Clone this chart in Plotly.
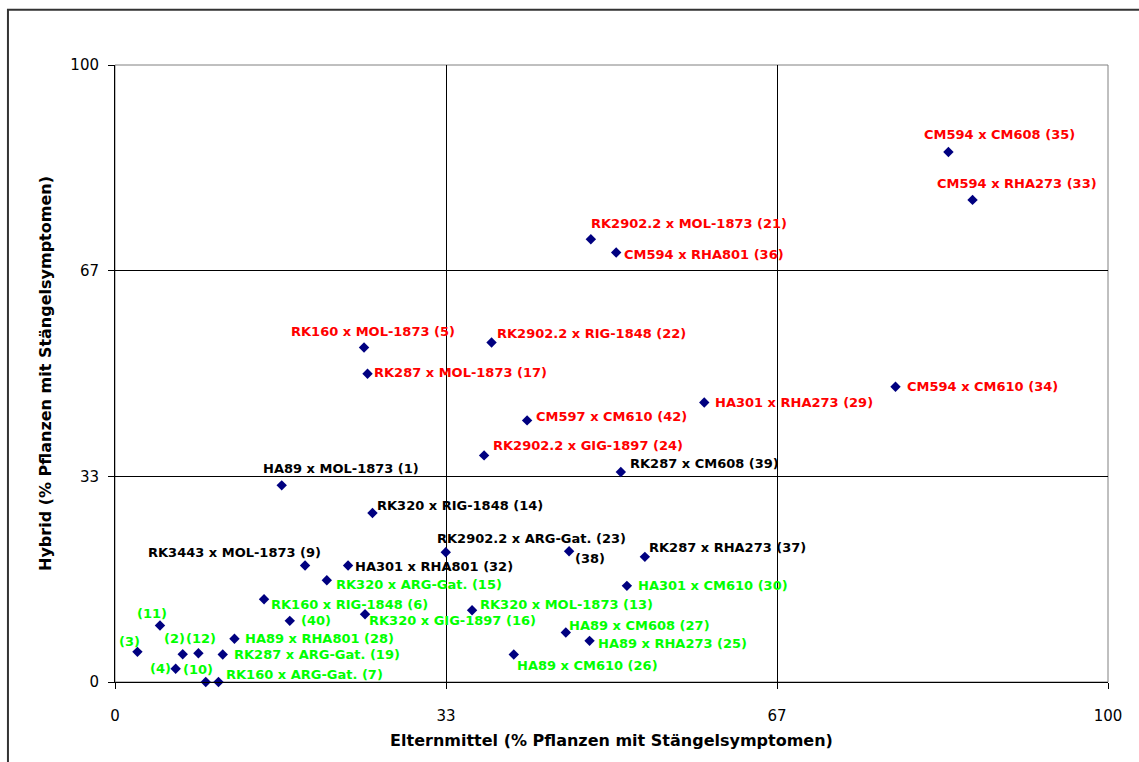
import plotly.graph_objects as go

# ---- data ----
labels = [
    "HA89 x MOL-1873 (1)", "(2)", "(3)", "(4)", "RK160 x MOL-1873 (5)",
    "RK160 x RIG-1848 (6)", "RK160 x ARG-Gat. (7)", "RK3443 x MOL-1873 (9)", "(10)", "(11)",
    "(12)", "RK320 x MOL-1873 (13)", "RK320 x RIG-1848 (14)", "RK320 x ARG-Gat. (15)", "RK320 x GIG-1897 (16)",
    "RK287 x MOL-1873 (17)", "RK287 x ARG-Gat. (19)", "RK2902.2 x MOL-1873 (21)", "RK2902.2 x RIG-1848 (22)", "RK2902.2 x ARG-Gat. (23)",
    "RK2902.2 x GIG-1897 (24)", "HA89 x RHA273 (25)", "HA89 x CM610 (26)", "HA89 x CM608 (27)", "HA89 x RHA801 (28)",
    "HA301 x RHA273 (29)", "HA301 x CM610 (30)", "HA301 x RHA801 (32)", "CM594 x RHA273 (33)", "CM594 x CM610 (34)",
    "CM594 x CM608 (35)", "CM594 x RHA801 (36)", "RK287 x RHA273 (37)", "(38)", "RK287 x CM608 (39)",
    "(40)", "CM597 x CM610 (42)",
]
elternmittel = [
    16.79, 6.82, 2.26, 6.11, 25.08,
    15.01, 10.42, 19.14, 9.14, 4.53,
    8.40, 35.96, 25.93, 21.33, 25.18,
    25.43, 10.85, 47.92, 37.92, 33.31,
    37.17, 47.79, 40.16, 45.40, 12.03,
    59.34, 51.55, 23.47, 86.36, 78.60,
    83.93, 50.47, 53.36, 45.73, 50.94,
    17.60, 41.50,
]
hybrid = [
    31.87, 4.50, 4.89, 2.14, 54.22,
    13.41, 0.00, 18.87, 0.00, 9.15,
    4.66, 11.63, 27.40, 16.49, 10.98,
    49.96, 4.45, 71.77, 55.03, 21.02,
    36.73, 6.67, 4.45, 8.02, 7.00,
    45.31, 15.58, 18.87, 78.14, 47.85,
    85.91, 69.60, 20.28, 21.18, 34.04,
    9.91, 42.40,
]
groups = [
    "k", "g", "g", "g", "r",
    "g", "g", "k", "g", "g",
    "g", "g", "k", "g", "g",
    "r", "g", "r", "r", "k",
    "r", "g", "g", "g", "g",
    "r", "g", "k", "r", "r",
    "r", "r", "k", "k", "k",
    "g", "r",
]
tick_vals = [0, 100 / 3, 200 / 3, 100]
tick_text = ["0", "33", "67", "100"]

# ---- label placement (style) ----
label_pos = [
    ("left", -19, 17), ("center", -8, 16), ("center", -8, 10), ("right", -5, 0), ("center", 9, 16),
    ("left", 7, -5), ("left", 8, 8), ("right", 16, 13), ("center", -8, 13), ("center", -8, 12),
    ("center", 3, 15), ("left", 8, 6), ("left", 5, 7), ("left", 9, -4), ("left", 4, -6),
    ("left", 6, 1), ("left", 11, 0), ("left", 0, 16), ("left", 5, 9), ("left", -9, 14),
    ("left", 9, 10), ("left", 8, -3), ("left", 3, -11), ("left", 3, 7), ("left", 11, 0),
    ("left", 11, 0), ("left", 11, 0), ("left", 7, -1), ("center", 44, 16), ("left", 11, 0),
    ("center", 51, 17), ("left", 8, -2), ("left", 4, 9), ("left", 6, -7), ("left", 9, 8),
    ("left", 11, 0), ("left", 9, 4),
]
color_map = {"r": "#FF0000", "k": "#000000", "g": "#00FF00"}

fig = go.Figure()
fig.add_trace(go.Scatter(
    x=elternmittel, y=hybrid, mode="markers",
    marker=dict(symbol="diamond", size=8, color="#000080"),
    cliponaxis=False, hoverinfo="text", text=labels, showlegend=False,
))

annotations = []
for lab, xv, yv, g, (anc, dx, dy) in zip(labels, elternmittel, hybrid, groups, label_pos):
    annotations.append(dict(
        x=xv, y=yv, xref="x", yref="y", text=lab, showarrow=False,
        xanchor=anc, yanchor="middle", xshift=dx, yshift=dy,
        borderpad=0, borderwidth=0,
        font=dict(family="DejaVu Sans", size=13, color=color_map[g], weight="bold"),
    ))

axis_common = dict(
    range=[0, 100], tickmode="array", tickvals=tick_vals, ticktext=tick_text,
    showgrid=True, gridcolor="#000000", gridwidth=1,
    showline=True, linecolor="#000000", linewidth=1,
    ticks="outside", ticklen=6, tickcolor="#000000",
    zeroline=False, fixedrange=True,
    tickfont=dict(family="DejaVu Sans", size=15, color="#000000"),
)

fig.update_layout(
    width=1139, height=762, autosize=False,
    margin=dict(l=115, r=31, t=65, b=80, pad=0),
    paper_bgcolor="#FFFFFF", plot_bgcolor="#FFFFFF",
    xaxis=dict(**axis_common, ticklabelstandoff=14,
               title=dict(text="Elternmittel (% Pflanzen mit Stängelsymptomen)", standoff=10,
                          font=dict(family="DejaVu Sans", size=16, color="#000000", weight="bold"))),
    yaxis=dict(**axis_common, ticklabelstandoff=6,
               title=dict(text="Hybrid (% Pflanzen mit Stängelsymptomen)", standoff=14,
                          font=dict(family="DejaVu Sans", size=16, color="#000000", weight="bold"))),
    annotations=annotations,
    shapes=[
        dict(type="rect", xref="paper", yref="paper", x0=0, x1=1, y0=0, y1=1,
             line=dict(color="#808080", width=1), layer="below"),
        dict(type="rect", xref="paper", yref="paper", x0=-0.1078, x1=1.2, y0=-0.3, y1=1.0896,
             line=dict(color="#333333", width=2), fillcolor="rgba(0,0,0,0)", layer="above"),
    ],
)

fig.write_html("out.html", config={"displayModeBar": False},
               post_script="document.body.style.margin='0';document.body.style.overflow='hidden';")
